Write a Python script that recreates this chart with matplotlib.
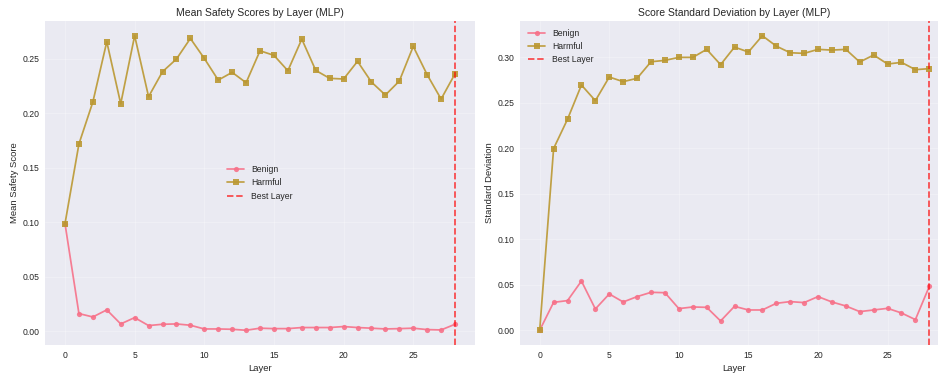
import numpy as np
import matplotlib
matplotlib.use('Agg')
import matplotlib.pyplot as plt
import seaborn as sns

plt.style.use('seaborn-v0_8')
sns.set_palette('husl')

layers = np.arange(29)
best_layer = 28

# mean safety score per layer
benign_mean = [0.0987, 0.0162, 0.0131, 0.0196, 0.0067, 0.0125, 0.0052, 0.0064, 0.0067, 0.0055,
               0.0021, 0.0021, 0.0018, 0.0009, 0.0028, 0.0024, 0.0024, 0.0034, 0.0034, 0.0034,
               0.0043, 0.0034, 0.0028, 0.0021, 0.0024, 0.0028, 0.0015, 0.0012, 0.0064]
harmful_mean = [0.0987, 0.1718, 0.2103, 0.2656, 0.2087, 0.2711, 0.2152, 0.2381, 0.2497, 0.2686,
                0.2503, 0.2304, 0.2375, 0.2280, 0.2573, 0.2531, 0.2390, 0.2680, 0.2393, 0.2320,
                0.2314, 0.2476, 0.2286, 0.2167, 0.2295, 0.2613, 0.2353, 0.2130, 0.2362]

# score std per layer
benign_std = [0.0, 0.0307, 0.0326, 0.0541, 0.0234, 0.0399, 0.0311, 0.0370, 0.0417, 0.0413,
              0.0238, 0.0256, 0.0252, 0.0102, 0.0263, 0.0223, 0.0223, 0.0296, 0.0315, 0.0304,
              0.0370, 0.0311, 0.0267, 0.0205, 0.0223, 0.0241, 0.0190, 0.0117, 0.0483]
harmful_std = [0.0, 0.1998, 0.2320, 0.2696, 0.2524, 0.2784, 0.2733, 0.2770, 0.2952, 0.2967,
               0.3000, 0.3000, 0.3088, 0.2920, 0.3113, 0.3059, 0.3238, 0.3124, 0.3051, 0.3044,
               0.3088, 0.3080, 0.3088, 0.2949, 0.3026, 0.2927, 0.2945, 0.2865, 0.2876]

fig, axes = plt.subplots(1, 2, figsize=(15.008, 5.968), dpi=62.5)
# the reference is cropped on the right, so place the axes by hand
axes[0].set_position([0.0485, 0.0751, 0.4574, 0.8686])
axes[1].set_position([0.5546, 0.0751, 0.4569, 0.8686])

ax = axes[0]
ax.plot(layers, benign_mean, 'o-', label='Benign', linewidth=2, markersize=6, alpha=0.9)
ax.plot(layers, harmful_mean, 's-', label='Harmful', linewidth=2, markersize=6, alpha=0.9)
ax.axvline(best_layer, color='red', linestyle='--', alpha=0.7, linewidth=2, label='Best Layer')
ax.set_xlabel('Layer')
ax.set_ylabel('Mean Safety Score')
ax.set_title('Mean Safety Scores by Layer (MLP)')
ax.legend(loc='center')
ax.grid(True, alpha=0.3)

ax = axes[1]
ax.plot(layers, benign_std, 'o-', label='Benign', linewidth=2, markersize=6, alpha=0.9)
ax.plot(layers, harmful_std, 's-', label='Harmful', linewidth=2, markersize=6, alpha=0.9)
ax.axvline(best_layer, color='red', linestyle='--', alpha=0.7, linewidth=2, label='Best Layer')
ax.set_xlabel('Layer')
ax.set_ylabel('Standard Deviation')
ax.set_title('Score Standard Deviation by Layer (MLP)')
ax.legend(loc='upper left')
ax.grid(True, alpha=0.3)

plt.savefig('out.png', dpi=62.5)
